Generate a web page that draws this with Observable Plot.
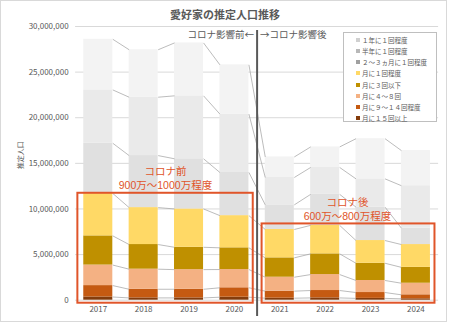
<!DOCTYPE html>
<html><head><meta charset="utf-8">
<script src="https://cdn.jsdelivr.net/npm/d3@7"></script>
<script src="https://cdn.jsdelivr.net/npm/@observablehq/plot@0.6"></script>
<style>
html,body{margin:0;padding:0;background:#fff;}
#wrap{position:relative;width:450px;height:325px;overflow:hidden;font-family:"Noto Sans CJK JP","Noto Sans",sans-serif;}
#frame{position:absolute;left:0;top:0;width:447px;height:322px;border:1px solid #d9d9d9;box-sizing:border-box;pointer-events:none;}
#title{position:absolute;left:0;width:450px;top:6px;text-align:center;font-size:11px;font-weight:bold;color:#595959;line-height:16px;}
#legend{position:absolute;left:343px;top:32px;width:94px;height:90px;background:#fff;border:1px solid #bfbfbf;box-sizing:border-box;padding-top:1px;}
.li{display:flex;align-items:center;height:11.25px;font-size:6.5px;color:#595959;padding-left:12px;white-space:nowrap;}
.sw{width:4px;height:4px;margin-right:2px;flex:none;}
svg{position:absolute;left:0;top:0;}
</style></head>
<body><div id="wrap"><div id="title"></div><div id="legend"></div><div id="frame"></div></div>
<script>
const title = "愛好家の推定人口推移";
const years = ["2017","2018","2019","2020","2021","2022","2023","2024"];
// series, listed top of stack first (legend order)
const seriesNames = ["１年に１回程度","半年に１回程度","２～３ヵ月に１回程度","月に１回程度","月に３回以下","月に４～８回","月に９～１４回程度","月に１５回以上"];
const seriesColors = ["#F3F3F3","#EAEAEA","#E0E0E0","#FFD966","#BF9000","#F4B183","#C55A11","#843C0C"];
const s1year   = [5550000,5200000,5800000,5400000,2250000,2250000,4400000,3850000];
const sHalf    = [5850000,6400000,6900000,6400000,3000000,2950000,3100000,4650000];
const s2to3m   = [5500000,5700000,5500000,4730000,2700000,3400000,3660000,1800000];
const sMonth1  = [4650000,4050000,4200000,3530000,3110000,3120000,2490000,2500000];
const sMonth3  = [3200000,2700000,2450000,2380000,2120000,2270000,1890000,1740000];
const sMonth4  = [2250000,2200000,2150000,2000000,1530000,1750000,1320000,1270000];
const sMonth9  = [1250000,950000,950000,1030000,770000,810000,640000,440000];
const sMonth15 = [350000,250000,250000,330000,220000,250000,200000,150000];
const yTicks = [0,5000000,10000000,15000000,20000000,25000000,30000000];
const dividerLeft = "コロナ影響前←";
const dividerRight = "→コロナ影響後";
const noteBefore = ["コロナ前","900万～1000万程度"];
const noteAfter = ["コロナ後","600万～800万程度"];
const yLabel = "推定人口";

const seriesValues = [s1year,sHalf,s2to3m,sMonth1,sMonth3,sMonth4,sMonth9,sMonth15];

document.getElementById("title").textContent = title;
const leg = document.getElementById("legend");
seriesNames.forEach((n,k)=>{
  const d = document.createElement("div"); d.className="li";
  const sw = document.createElement("span"); sw.className="sw";
  sw.style.background = k<3 ? ["#D0D0D0","#B8B8B8","#A0A0A0"][k] : seriesColors[k];
  d.appendChild(sw); d.appendChild(document.createTextNode(n)); leg.appendChild(d);
});

const half = 0.32;
const rows = [];
const cum = [];
const order = seriesValues.map((_,k)=>k).reverse();
const base = years.map(()=>0);
order.forEach(k=>{
  cum[k] = [];
  years.forEach((y,i)=>{
    const y1 = base[i], y2 = base[i]+seriesValues[k][i];
    rows.push({x1:i-half,x2:i+half,y1,y2,fill:seriesColors[k]});
    cum[k][i] = y2; base[i] = y2;
  });
});
const links = [];
order.forEach(k=>{
  for(let i=0;i<years.length-1;i++){
    links.push({x1:i+half,x2:i+1-half,y1:cum[k][i],y2:cum[k][i+1]});
  }
});
const red = "#E0552A";
const boxes = [
  {x1:-0.45,x2:3.415,y1:-330000,y2:11720000},
  {x1:3.61,x2:7.42,y1:-330000,y2:8360000}
];
const notes = [
  {x:1.48,y:14060000,text:noteBefore[0]},
  {x:1.48,y:12560000,text:noteBefore[1]},
  {x:5.49,y:10680000,text:noteAfter[0]},
  {x:5.49,y:9180000,text:noteAfter[1]}
];

const plot = Plot.plot({
  width:450,height:325,
  marginLeft:75.1,marginRight:11.9,marginTop:26,marginBottom:25.3,
  style:{fontFamily:'"Noto Sans CJK JP","Noto Sans",sans-serif',fontSize:"8px",color:"#595959",background:"transparent"},
  x:{domain:[-0.5,7.5],ticks:8,tickFormat:i=>years[i]??"",tickSize:0,tickPadding:6,label:null},
  y:{domain:[0,30000000],ticks:yTicks.length-1,tickFormat:d3.format(","),tickSize:0,tickPadding:7,label:null},
  marks:[
    Plot.ruleY(yTicks,{stroke:"#D9D9D9",strokeWidth:1}),
    Plot.rect(rows,{x1:"x1",x2:"x2",y1:"y1",y2:"y2",fill:"fill"}),
    Plot.link(links,{x1:"x1",x2:"x2",y1:"y1",y2:"y2",stroke:"#A6A6A6",strokeWidth:0.75}),
    Plot.ruleX([3.5],{y1:29550000,y2:-1800000,stroke:"#595959",strokeWidth:2}),
    Plot.text([dividerLeft],{x:3.5,frameAnchor:"top",dy:5,textAnchor:"end",dx:-3,fontSize:9.5,fill:"#595959"}),
    Plot.text([dividerRight],{x:3.5,frameAnchor:"top",dy:5,textAnchor:"start",dx:3,fontSize:9.5,fill:"#595959"}),
    Plot.rect(boxes,{x1:"x1",x2:"x2",y1:"y1",y2:"y2",fill:"none",stroke:red,strokeWidth:2}),
    Plot.text(notes,{x:"x",y:"y",text:"text",fill:red,fontSize:10.5,fontFamily:'"Liberation Sans","Noto Sans CJK JP",sans-serif'}),
    Plot.text([yLabel],{frameAnchor:"left",dx:-55,dy:6,rotate:-90,fontSize:7,fill:"#595959"})
  ]
});
document.getElementById("wrap").insertBefore(plot, document.getElementById("title"));
</script></body></html>
